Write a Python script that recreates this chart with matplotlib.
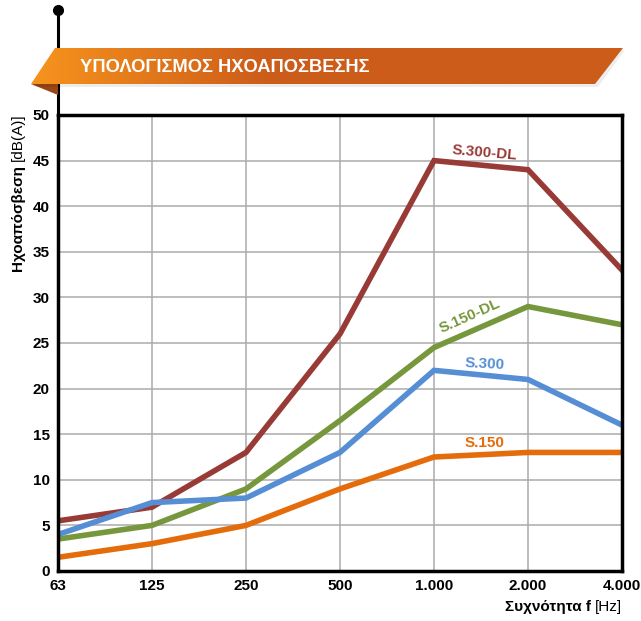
import matplotlib
matplotlib.use("Agg")
import matplotlib.pyplot as plt
import numpy as np
from matplotlib.patches import Polygon

plt.rcParams['font.family'] = ['Liberation Sans', 'DejaVu Sans']

# --- Data --------------------------------------------------------------------
freqs = ["63", "125", "250", "500", "1.000", "2.000", "4.000"]
s300dl = [5.5, 7, 13, 26, 45, 44, 33]
s150dl = [3.5, 5, 9, 16.5, 24.5, 29, 27]
s300 = [4, 7.5, 8, 13, 22, 21, 16]
s150 = [1.5, 3, 5, 9, 12.5, 13, 13]

series = [
    ("S.300-DL", s300dl, "#983A36"),
    ("S.150-DL", s150dl, "#77973D"),
    ("S.300", s300, "#558ED5"),
    ("S.150", s150, "#E46C0A"),
]

W, H = 641, 621
fig = plt.figure(figsize=(W / 100, H / 100), dpi=100)

# --- Main chart ---------------------------------------------------------------
ax = fig.add_axes([58 / W, 1 - 571 / H, (622 - 58) / W, (571 - 115) / H])
x = np.arange(len(freqs))
for name, vals, col in series:
    ax.plot(x, vals, color=col, lw=4.0, solid_joinstyle='miter', zorder=3)

ax.set_xlim(0, len(freqs) - 1)
ax.set_ylim(0, 50)
ax.set_xticks(x)
ax.set_xticklabels(freqs)
ax.set_yticks(np.arange(0, 51, 5))
ax.grid(True, color="#ABABAB", lw=1.1)
ax.tick_params(length=0, labelsize=11, pad=6)
for lab in ax.get_xticklabels() + ax.get_yticklabels():
    lab.set_fontweight('bold')
for sp in ax.spines.values():
    sp.set_linewidth(2.5)
    sp.set_color("black")
    sp.set_zorder(5)

# line labels
ax.text(4.54, 45.9, "S.300-DL", color="#983A36", fontsize=11,
        fontweight='bold', rotation=-5, ha='center', va='center')
ax.text(4.38, 27.9, "S.150-DL", color="#77973D", fontsize=11,
        fontweight='bold', rotation=24, ha='center', va='center')
ax.text(4.54, 22.7, "S.300", color="#558ED5", fontsize=11,
        fontweight='bold', rotation=-3, ha='center', va='center')
ax.text(4.54, 14.0, "S.150", color="#E46C0A", fontsize=11,
        fontweight='bold', ha='center', va='center')

# axis titles (bold part + regular unit), placed next to each other
rend = fig.canvas.get_renderer()
unit_x = fig.text(622 / W, 1 - 607 / H, "[Hz]", fontsize=11,
                  ha='right', va='center')
bb = unit_x.get_window_extent(rend)
fig.text((bb.x0 - 4) / W, 1 - 607 / H, "Συχνότητα f", fontsize=11,
         fontweight='bold', ha='right', va='center')

unit_y = fig.text(18 / W, 1 - 113 / H, "[dB(A)]", fontsize=11, rotation=90,
                  ha='center', va='top')
bb = unit_y.get_window_extent(rend)
fig.text(18 / W, (bb.y0 - 4) / H, "Ηχοαπόσβεση", fontsize=11, rotation=90,
         fontweight='bold', ha='center', va='top')

# --- Banner overlay (pixel coordinates) --------------------------------------
ov = fig.add_axes([0, 0, 1, 1], zorder=10)
ov.axis('off')
ov.patch.set_alpha(0)

# pin line and dot
ov.plot([58, 58], [10, 115], color="black", lw=2.2, zorder=1)
ov.plot(58, 10, 'o', color="black", ms=7, zorder=1)

# fold under the ribbon
ov.add_patch(Polygon([(31, 84), (58, 84), (58, 95)], closed=True,
                     facecolor="#9A4514", edgecolor='none', zorder=2))
# soft shadow
ov.add_patch(Polygon([(57, 50), (625, 50), (598, 87), (33, 87)], closed=True,
                     facecolor="#000000", alpha=0.07, edgecolor='none', zorder=2))

banner = Polygon([(55, 48), (623, 48), (595, 84), (31, 84)], closed=True,
                 facecolor='none', edgecolor='none', zorder=3)
ov.add_patch(banner)
grad = np.linspace(0, 1, 600)
grad = np.clip(grad / 0.4, 0, 1)
c0 = np.array([247, 148, 29]) / 255
c1 = np.array([204, 92, 26]) / 255
img = c0[None, :] * (1 - grad[:, None]) + c1[None, :] * grad[:, None]
im = ov.imshow(img[None, :, :], extent=[31, 623, 84, 48], aspect='auto',
               zorder=3, interpolation='bilinear')
im.set_clip_path(banner)
ov.set_xlim(0, W)
ov.set_ylim(H, 0)

ov.text(80, 67, "ΥΠΟΛΟΓΙΣΜΟΣ ΗΧΟΑΠΟΣΒΕΣΗΣ", color="white", fontsize=13.2,
        fontweight='bold', ha='left', va='center', zorder=4)

fig.savefig("out.png", dpi=100)
